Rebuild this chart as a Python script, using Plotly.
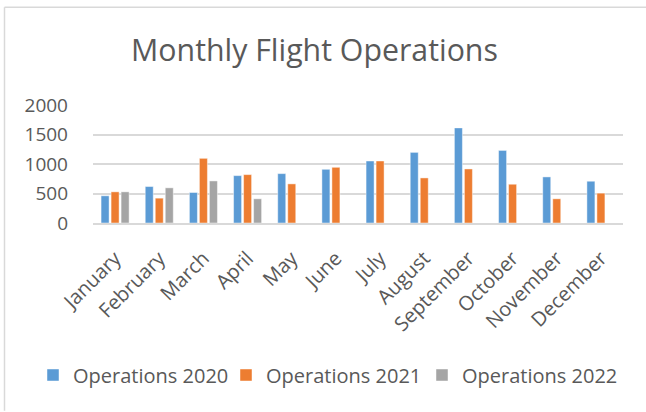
import plotly.graph_objects as go

months = ["January", "February", "March", "April", "May", "June", "July",
          "August", "September", "October", "November", "December"]
ops_2020 = [461, 618, 517, 803, 837, 910, 1051, 1197, 1612, 1230, 781, 708]
ops_2021 = [528, 421, 1096, 820, 663, 944, 1051, 764, 916, 657, 410, 506]
ops_2022 = [528, 596, 713, 410, None, None, None, None, None, None, None, None]

FONT = "Open Sans"
TXT = "#595959"
GRID = "#D9D9D9"
W, H = 646, 412

fig = go.Figure()
series = [("Operations 2020", ops_2020, "#5B9BD5", "legend"),
          ("Operations 2021", ops_2021, "#ED7D31", "legend2"),
          ("Operations 2022", ops_2022, "#A5A5A5", "legend3")]
for name, vals, col, lg in series:
    fig.add_trace(go.Bar(x=months, y=vals, name=name, legend=lg,
                         marker=dict(color=col, line=dict(color="rgba(255,255,255,0.45)", width=1))))

def leg(xpx):
    return dict(orientation="h", x=xpx / W, xanchor="left", xref="container",
                y=1 - 375 / H, yanchor="middle", yref="container",
                font=dict(family=FONT, size=20, color=TXT), itemwidth=30,
                bgcolor="rgba(0,0,0,0)")

# plot area in pixels: x 93..623, y 104.7..223.3
pl, pr, pt, pb = 93, 623, 104.7, 223.3
ph = pb - pt
pw = pr - pl

fig.update_layout(
    width=W, height=H,
    paper_bgcolor="white", plot_bgcolor="white",
    margin=dict(l=pl, r=W - pr, t=pt, b=H - pb),
    barmode="group", bargap=0.32, bargroupgap=0.2,
    font=dict(family=FONT, color=TXT, size=19),
    title=dict(text="Monthly Flight Operations", x=314.5 / W, xanchor="center",
               y=1 - 50 / H, yanchor="middle", yref="container",
               font=dict(family=FONT, size=30.3, color=TXT)),
    showlegend=True,
    legend=leg(47 - 14),
    legend2=leg(240 - 14),
    legend3=leg(436 - 14),
    xaxis=dict(tickangle=-45, showgrid=False, showline=True, linecolor=GRID, linewidth=1.5,
               ticks="", automargin=False, ticklabelstandoff=14,
               tickfont=dict(family=FONT, size=20, color=TXT)),
    yaxis=dict(range=[0, 2000], dtick=500, showgrid=True, gridcolor=GRID, gridwidth=1.5,
               zeroline=False, showline=False, ticks="", ticklabelstandoff=24, automargin=False,
               tickfont=dict(family=FONT, size=19, color=TXT)),
    shapes=[
        dict(type="line", xref="paper", yref="paper",
             x0=(4.5 - pl) / pw, x1=(W - pl) / pw,
             y0=(pb - 6.5) / ph, y1=(pb - 6.5) / ph,
             line=dict(color=GRID, width=1.5)),
        dict(type="line", xref="paper", yref="paper",
             x0=(4.5 - pl) / pw, x1=(4.5 - pl) / pw,
             y0=(pb - 6.5) / ph, y1=(pb - H) / ph,
             line=dict(color=GRID, width=1.5)),
    ],
)

fig.write_html("out.html", config={"displayModeBar": False},
               post_script="document.body.style.margin='0';")
